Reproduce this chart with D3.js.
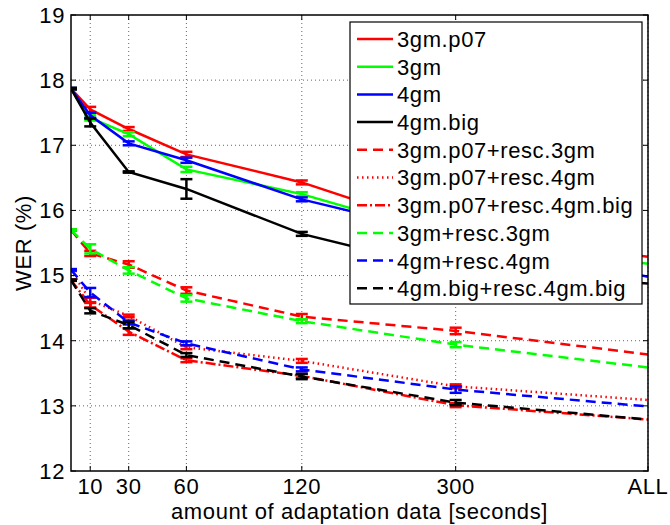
<!DOCTYPE html>
<html>
<head>
<meta charset="utf-8">
<script src="https://cdn.jsdelivr.net/npm/d3@7"></script>
<style>
  html, body { margin: 0; padding: 0; background: #fff; }
  svg { display: block; }
  text { font-family: "Liberation Sans", Arial, Helvetica, sans-serif; letter-spacing: 0.6px; }
</style>
</head>
<body>
<svg id="chart" width="670" height="525"></svg>
<script>
// ---------------- data ----------------
const xValues = [0, 10, 30, 60, 120, 200, 300];
const xTickValues = [10, 30, 60, 120, 200, 300];
const xTickLabels = ["10", "30", "60", "120", "300", "ALL"];
const yTickValues = [12, 13, 14, 15, 16, 17, 18, 19];

const seriesNames = [
  "3gm.p07", "3gm", "4gm", "4gm.big",
  "3gm.p07+resc.3gm", "3gm.p07+resc.4gm", "3gm.p07+resc.4gm.big",
  "3gm+resc.3gm", "4gm+resc.4gm", "4gm.big+resc.4gm.big"
];
const seriesColors = ["#ff0000", "#00ff00", "#0000ff", "#000000",
  "#ff0000", "#ff0000", "#ff0000", "#00ff00", "#0000ff", "#000000"];
const seriesStyles = ["solid", "solid", "solid", "solid",
  "dash", "dot", "dashdot", "dash", "dash", "dash"];

const wer_3gm_p07            = [17.87, 17.55, 17.25, 16.86, 16.43, 15.65, 15.29];
const wer_3gm                = [17.87, 17.42, 17.17, 16.63, 16.25, 15.57, 15.18];
const wer_4gm                = [17.87, 17.46, 17.03, 16.77, 16.17, 15.60, 14.98];
const wer_4gm_big            = [17.87, 17.35, 16.59, 16.33, 15.64, 15.06, 14.88];
const wer_3gm_p07_resc3      = [15.70, 15.34, 15.17, 14.77, 14.37, 14.15, 13.79];
const wer_3gm_p07_resc4      = [15.08, 14.62, 14.38, 13.90, 13.69, 13.30, 13.09];
const wer_3gm_p07_resc4big   = [14.93, 14.55, 14.14, 13.70, 13.46, 13.01, 12.79];
const wer_3gm_resc3          = [15.70, 15.41, 15.08, 14.65, 14.30, 13.94, 13.59];
const wer_4gm_resc4          = [15.09, 14.74, 14.28, 13.96, 13.56, 13.25, 12.99];
const wer_4gm_big_resc4big   = [14.93, 14.46, 14.24, 13.78, 13.45, 13.05, 12.79];

const err_3gm_p07            = [0.01, 0.04, 0.03, 0.04, 0.03, 0.03, 0];
const err_3gm                = [0.01, 0.04, 0.03, 0.04, 0.03, 0.03, 0];
const err_4gm                = [0.01, 0.04, 0.03, 0.04, 0.03, 0.03, 0];
const err_4gm_big            = [0.01, 0.06, 0.01, 0.15, 0.03, 0.03, 0];
const err_3gm_p07_resc3      = [0.01, 0.04, 0.05, 0.05, 0.04, 0.05, 0];
const err_3gm_p07_resc4      = [0.01, 0.04, 0.02, 0.03, 0.03, 0.03, 0];
const err_3gm_p07_resc4big   = [0.01, 0.04, 0.05, 0.03, 0.03, 0.03, 0];
const err_3gm_resc3          = [0.01, 0.07, 0.05, 0.05, 0.03, 0.04, 0];
const err_4gm_resc4          = [0.01, 0.07, 0.03, 0.03, 0.03, 0.05, 0];
const err_4gm_big_resc4big   = [0.01, 0.04, 0.05, 0.03, 0.04, 0.04, 0];

const seriesValues = [wer_3gm_p07, wer_3gm, wer_4gm, wer_4gm_big,
  wer_3gm_p07_resc3, wer_3gm_p07_resc4, wer_3gm_p07_resc4big,
  wer_3gm_resc3, wer_4gm_resc4, wer_4gm_big_resc4big];
const seriesErrors = [err_3gm_p07, err_3gm, err_4gm, err_4gm_big,
  err_3gm_p07_resc3, err_3gm_p07_resc4, err_3gm_p07_resc4big,
  err_3gm_resc3, err_4gm_resc4, err_4gm_big_resc4big];

const xLabel = "amount of adaptation data [seconds]";
const yLabel = "WER (%)";

// ---------------- layout ----------------
const svg = d3.select("#chart");
const margin = { left: 71, top: 15, right: 22, bottom: 54 };
const W = 670, H = 525;
const pw = W - margin.left - margin.right;
const ph = H - margin.top - margin.bottom;
const FS = 22;

const x = d3.scaleLinear().domain([0, 300]).range([margin.left, margin.left + pw]);
const y = d3.scaleLinear().domain([12, 19]).range([margin.top + ph, margin.top]);

const dashMap = { solid: null, dash: "10,6", dot: "1.5,3.5", dashdot: "10,3,2,3" };

svg.append("defs").append("clipPath").attr("id", "plotclip")
  .append("rect").attr("x", margin.left).attr("y", margin.top)
  .attr("width", pw).attr("height", ph);

// grid
const grid = svg.append("g");
grid.selectAll("line.vg").data(xTickValues).join("line")
  .attr("x1", d => x(d)).attr("x2", d => x(d))
  .attr("y1", margin.top).attr("y2", margin.top + ph)
  .attr("stroke", "#666").attr("stroke-width", 1).attr("stroke-dasharray", "1,3");
grid.selectAll("line.hg").data(yTickValues.slice(1, -1)).join("line")
  .attr("y1", d => y(d)).attr("y2", d => y(d))
  .attr("x1", margin.left).attr("x2", margin.left + pw)
  .attr("stroke", "#666").attr("stroke-width", 1).attr("stroke-dasharray", "1,3");

// series
const plot = svg.append("g").attr("clip-path", "url(#plotclip)");
const line = d3.line().x(d => x(d[0])).y(d => y(d[1]));
const capW = 6;
seriesNames.forEach((name, i) => {
  const pts = xValues.map((xv, j) => [xv, seriesValues[i][j], seriesErrors[i][j]]);
  const g = plot.append("g");
  g.append("path").datum(pts)
    .attr("d", line).attr("fill", "none")
    .attr("stroke", seriesColors[i]).attr("stroke-width", 2.5)
    .attr("stroke-dasharray", dashMap[seriesStyles[i]]);
  const eb = g.selectAll("g.eb").data(pts.filter(p => p[2] > 0)).join("g")
    .attr("stroke", seriesColors[i]).attr("stroke-width", 2.5);
  eb.append("line")
    .attr("x1", d => x(d[0])).attr("x2", d => x(d[0]))
    .attr("y1", d => y(d[1] - d[2])).attr("y2", d => y(d[1] + d[2]));
  eb.append("line")
    .attr("x1", d => x(d[0]) - capW).attr("x2", d => x(d[0]) + capW)
    .attr("y1", d => y(d[1] - d[2])).attr("y2", d => y(d[1] - d[2]));
  eb.append("line")
    .attr("x1", d => x(d[0]) - capW).attr("x2", d => x(d[0]) + capW)
    .attr("y1", d => y(d[1] + d[2])).attr("y2", d => y(d[1] + d[2]));
});

// axes frame + ticks (inward, all four sides)
const ax = svg.append("g").attr("stroke", "#000");
ax.append("rect").attr("x", margin.left).attr("y", margin.top)
  .attr("width", pw).attr("height", ph).attr("fill", "none").attr("stroke-width", 1.5);
const tl = 5;
xTickValues.forEach(v => {
  ax.append("line").attr("x1", x(v)).attr("x2", x(v))
    .attr("y1", margin.top + ph).attr("y2", margin.top + ph - tl).attr("stroke-width", 1);
  ax.append("line").attr("x1", x(v)).attr("x2", x(v))
    .attr("y1", margin.top).attr("y2", margin.top + tl).attr("stroke-width", 1);
});
yTickValues.forEach(v => {
  ax.append("line").attr("x1", margin.left).attr("x2", margin.left + tl)
    .attr("y1", y(v)).attr("y2", y(v)).attr("stroke-width", 1);
  ax.append("line").attr("x1", margin.left + pw).attr("x2", margin.left + pw - tl)
    .attr("y1", y(v)).attr("y2", y(v)).attr("stroke-width", 1);
});

// tick labels
svg.append("g").selectAll("text").data(xTickValues).join("text")
  .attr("x", d => x(d)).attr("y", margin.top + ph + 23)
  .attr("text-anchor", "middle").attr("font-size", FS)
  .text((d, i) => xTickLabels[i]);
svg.append("g").selectAll("text").data(yTickValues).join("text")
  .attr("x", margin.left - 6).attr("y", d => y(d))
  .attr("dy", "0.36em")
  .attr("text-anchor", "end").attr("font-size", FS)
  .text(d => d);

// axis labels
svg.append("text").attr("x", margin.left + pw / 2).attr("y", H - 6)
  .attr("text-anchor", "middle").attr("font-size", FS).text(xLabel);
svg.append("text")
  .attr("transform", `translate(31,${margin.top + ph / 2}) rotate(-90)`)
  .attr("text-anchor", "middle").attr("font-size", FS).text(yLabel);

// legend
const lg = svg.append("g");
const lx = 350, ly = 22, lw = 292, lh = 282, rowH = 27.7;
lg.append("rect").attr("x", lx).attr("y", ly).attr("width", lw).attr("height", lh)
  .attr("fill", "#fff").attr("stroke", "#000").attr("stroke-width", 1.2);
seriesNames.forEach((name, i) => {
  const ry = ly + 17 + i * rowH;
  lg.append("line").attr("x1", lx + 7).attr("x2", lx + 43)
    .attr("y1", ry).attr("y2", ry)
    .attr("stroke", seriesColors[i]).attr("stroke-width", 2.5)
    .attr("stroke-dasharray", dashMap[seriesStyles[i]]);
  lg.append("text").attr("x", lx + 47).attr("y", ry).attr("dy", "0.36em")
    .attr("font-size", FS).text(name);
});
</script>
</body>
</html>
